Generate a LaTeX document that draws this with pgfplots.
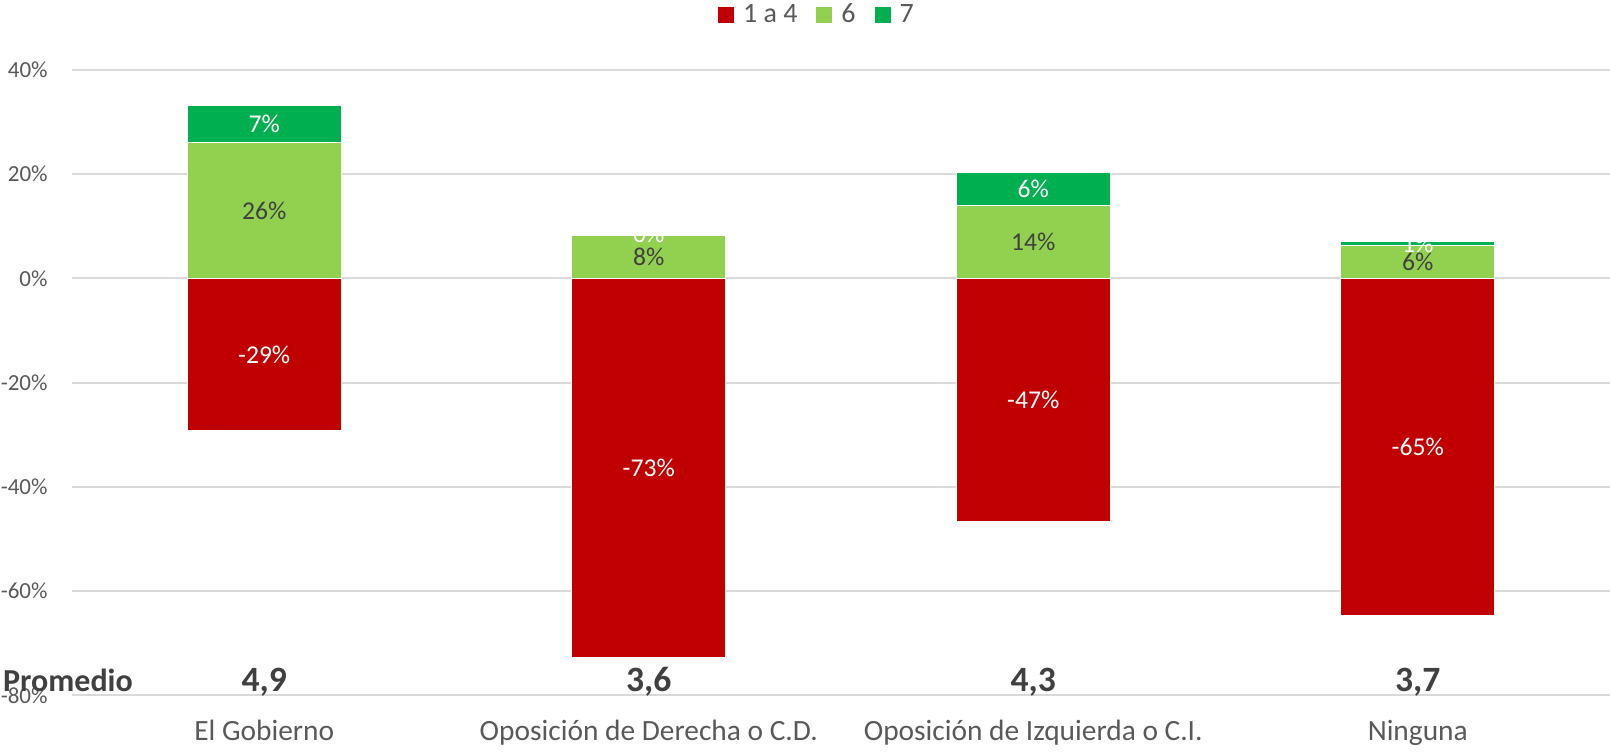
\documentclass[border=0pt]{standalone}
\usepackage{pgfplots}
\usepackage{pgfplotstable}
\pgfplotsset{compat=1.18}
\usepackage{fontspec}
\setmainfont{Carlito}

\definecolor{cRed}{HTML}{C00000}
\definecolor{cLight}{HTML}{92D050}
\definecolor{cDark}{HTML}{00B050}
\definecolor{cGrid}{HTML}{D9D9D9}
\definecolor{cText}{HTML}{595959}
\definecolor{cLab}{HTML}{404040}

% low = 1 a 4, six = 6, seven = 7
\pgfplotstableread{
x low six seven
0 -29.2 26.0 7.1
1 -72.8 8.3 0.3
2 -46.7 14.0 6.4
3 -64.7 6.3 0.8
}\data

\pgfplotsset{
    seglabel/.style={draw=none, mark=none, forget plot, point meta=explicit,
        nodes near coords={\pgfmathprintnumber[fixed, precision=0]{\pgfplotspointmeta}\%},
        nodes near coords align=center,
        every node near coord/.append style={text=#1, font=\fontsize{12.8}{15}\selectfont}},
    segbar/.style={ybar, bar width=0.4, bar shift=0pt, fill=#1, draw=white, line width=0.6pt, forget plot},
}

\begin{document}
\begin{tikzpicture}
\useasboundingbox (-36pt,-27.8pt) rectangle (769pt,347.7pt);
\begin{axis}[
    width=769pt, height=312.8pt,
    scale only axis,
    clip=false,
    xmin=-0.5, xmax=3.5,
    ymin=-80, ymax=40,
    ytick={-80,-60,...,40},
    yticklabel={\pgfmathprintnumber{\tick}\%},
    /pgf/number format/assume math mode=true,
    xtick={0,1,2,3},
    xticklabels={El Gobierno, Oposición de Derecha o C.D., Oposición de Izquierda o C.I., Ninguna},
    axis line style={draw=none},
    major tick length=0pt,
    ymajorgrids,
    grid style={cGrid, line width=1pt},
    yticklabel style={font=\fontsize{11.5}{13}\selectfont, text=cText, anchor=east, inner sep=0pt, xshift=-12pt},
    xticklabel style={font=\fontsize{14.7}{17}\selectfont, text=cText, anchor=base, inner sep=0pt, yshift=-22.3pt},
    legend image code/.code={\fill[#1, draw=none] (0pt,-4pt) rectangle (8pt,4pt);},
    legend style={draw=none, fill=none, at={(0.4837,1.0876)}, anchor=center,
        font=\fontsize{14}{16}\selectfont, text=cText, legend columns=-1,
        /tikz/every odd column/.append style={column sep=4.5pt},
        /tikz/every even column/.append style={column sep=9.5pt},
        nodes={inner sep=0pt}},
]
% bars
\addplot[segbar=cRed] table[x=x, y=low]{\data};
\addplot[segbar=cDark] table[x=x, y expr=\thisrow{six}+\thisrow{seven}]{\data};
\addplot[segbar=cLight] table[x=x, y=six]{\data};

% segment labels
\addplot[seglabel=white] table[x=x, y expr=\thisrow{low}/2, meta=low]{\data};
\addplot[seglabel=cLab] table[x=x, y expr=\thisrow{six}/2, meta=six]{\data};
\addplot[seglabel=white] table[x=x, y expr=\thisrow{six}+\thisrow{seven}/2, meta=seven]{\data};

\addlegendimage{fill=cRed, draw=none}\addlegendentry{1 a 4}
\addlegendimage{fill=cLight, draw=none}\addlegendentry{6}
\addlegendimage{fill=cDark, draw=none}\addlegendentry{7}

% promedio row
\node[anchor=base west, inner sep=0pt, text=cLab, font=\fontsize{16}{20}\selectfont\bfseries] at (axis cs:-0.68,-79.3) {Promedio};
\node[anchor=base, inner sep=0pt, text=cLab, font=\fontsize{17.8}{20}\selectfont\bfseries] at (axis cs:0,-79.3) {4,9};
\node[anchor=base, inner sep=0pt, text=cLab, font=\fontsize{17.8}{20}\selectfont\bfseries] at (axis cs:1,-79.3) {3,6};
\node[anchor=base, inner sep=0pt, text=cLab, font=\fontsize{17.8}{20}\selectfont\bfseries] at (axis cs:2,-79.3) {4,3};
\node[anchor=base, inner sep=0pt, text=cLab, font=\fontsize{17.8}{20}\selectfont\bfseries] at (axis cs:3,-79.3) {3,7};
\end{axis}
\end{tikzpicture}
\end{document}
